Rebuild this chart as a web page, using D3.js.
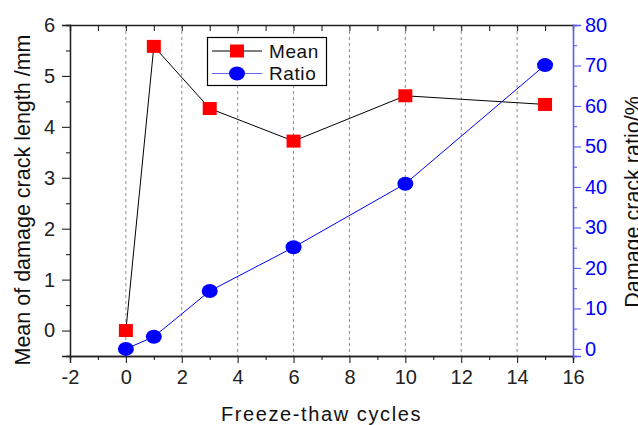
<!DOCTYPE html>
<html>
<head>
<meta charset="utf-8">
<script src="https://cdn.jsdelivr.net/npm/d3@7"></script>
<style>
  html, body { margin: 0; padding: 0; background: #fff; }
  svg { display: block; font-family: "Liberation Sans", Arial, sans-serif; }
</style>
</head>
<body>
<svg id="chart" width="638" height="425"></svg>
<script>
// Freeze-thaw cycles and measured crack statistics
const cycles = [0, 1, 3, 6, 10, 15];
const meanLength = [0, 5.58, 4.36, 3.72, 4.61, 4.44];   // mm
const crackRatio = [0, 3, 14.3, 25.1, 40.8, 70.1];       // %

const xTicks = [-2, 0, 2, 4, 6, 8, 10, 12, 14, 16];
const yLeftTicks = [0, 1, 2, 3, 4, 5, 6];
const yRightTicks = [0, 10, 20, 30, 40, 50, 60, 70, 80];
const gridCycles = [0, 2, 4, 6, 8, 10, 12, 14];
const seriesNames = ["Mean", "Ratio"];

const svg = d3.select("#chart");
const plotLeft = 70, plotRight = 573, plotTop = 25, plotBottom = 356;

const x = d3.scaleLinear().domain([-2, 16]).range([plotLeft, plotRight]);
const yL = d3.scaleLinear().domain([-0.5, 6]).range([plotBottom, plotTop]);
const yR = d3.scaleLinear().domain([-1.75, 80]).range([plotBottom, plotTop]);

const axisColor = "#222";
const blueAxis = "#5a5aff";
const fontSize = 20;
const plainNum = d => String(d);   // keep an ASCII hyphen for negatives

// dashed vertical guide lines
svg.append("g").selectAll("line").data(gridCycles).join("line")
  .attr("x1", d => x(d)).attr("x2", d => x(d))
  .attr("y1", plotTop).attr("y2", plotBottom)
  .attr("stroke", "#8c8c8c").attr("stroke-width", 1)
  .attr("stroke-dasharray", "3,3");

function styleAxis(g, color, textColor) {
  g.select(".domain").attr("stroke", color).attr("stroke-width", 1.3);
  g.selectAll(".tick line").attr("stroke", color).attr("stroke-width", 1.1);
  g.selectAll("text").attr("fill", textColor).attr("font-size", fontSize)
    .attr("font-family", "Liberation Sans, Arial, sans-serif");
}

// bottom axis with minor ticks
const xMinor = d3.range(-2, 16.01, 1).filter(v => v % 2 !== 0);
svg.append("g").attr("transform", `translate(0,${plotBottom})`)
  .call(d3.axisBottom(x).tickValues(xMinor).tickSize(4).tickFormat(""))
  .call(g => styleAxis(g, axisColor, axisColor));
svg.append("g").attr("transform", `translate(0,${plotBottom})`)
  .call(d3.axisBottom(x).tickValues(xTicks).tickSize(7).tickPadding(7).tickFormat(plainNum))
  .call(g => styleAxis(g, axisColor, axisColor));

// top frame axis, ticks pointing inward
svg.append("g").attr("transform", `translate(0,${plotTop})`)
  .call(d3.axisTop(x).tickValues(d3.range(-2, 16.01, 1)).tickSize(-6).tickFormat(""))
  .call(g => styleAxis(g, axisColor, axisColor));

// left axis
const yLMinor = d3.range(-0.5, 6.01, 0.5).filter(v => v % 1 !== 0);
svg.append("g").attr("transform", `translate(${plotLeft},0)`)
  .call(d3.axisLeft(yL).tickValues(yLMinor).tickSize(4).tickFormat(""))
  .call(g => styleAxis(g, axisColor, axisColor));
svg.append("g").attr("transform", `translate(${plotLeft},0)`)
  .call(d3.axisLeft(yL).tickValues(yLeftTicks).tickSize(8).tickPadding(7).tickFormat(plainNum))
  .call(g => styleAxis(g, axisColor, axisColor));

// right axis in blue
const yRMinor = d3.range(5, 80, 10);
svg.append("g").attr("transform", `translate(${plotRight},0)`)
  .call(d3.axisRight(yR).tickValues(yRMinor).tickSize(4).tickFormat(""))
  .call(g => styleAxis(g, blueAxis, "#0000ff"));
svg.append("g").attr("transform", `translate(${plotRight},0)`)
  .call(d3.axisRight(yR).tickValues(yRightTicks).tickSize(8).tickPadding(4).tickFormat(plainNum))
  .call(g => styleAxis(g, blueAxis, "#0000ff"));

// axis titles
svg.append("text").attr("x", x(7)).attr("y", 421)
  .attr("text-anchor", "middle").attr("font-size", 20).attr("letter-spacing", 1.6)
  .attr("fill", "#111").text("Freeze-thaw cycles");
svg.append("text").attr("transform", "translate(30,200) rotate(-90)")
  .attr("text-anchor", "middle").attr("font-size", 21.5)
  .attr("fill", "#111").text("Mean of damage crack length /mm");
svg.append("text").attr("transform", "translate(640,202) rotate(-90)")
  .attr("text-anchor", "middle").attr("font-size", 21.5)
  .attr("fill", "#111").text("Damage crack ratio/%");

const meanPts = cycles.map((c, i) => [c, meanLength[i]]);
const ratioPts = cycles.map((c, i) => [c, crackRatio[i]]);

// connecting lines
svg.append("path").datum(ratioPts)
  .attr("d", d3.line().x(d => x(d[0])).y(d => yR(d[1])))
  .attr("fill", "none").attr("stroke", "#0000ff").attr("stroke-width", 1);
svg.append("path").datum(meanPts)
  .attr("d", d3.line().x(d => x(d[0])).y(d => yL(d[1])))
  .attr("fill", "none").attr("stroke", "#000").attr("stroke-width", 1);

// markers
const sq = 14;
svg.append("g").selectAll("ellipse").data(ratioPts).join("ellipse")
  .attr("cx", d => x(d[0])).attr("cy", d => yR(d[1]))
  .attr("rx", 8).attr("ry", 7).attr("fill", "#0000ff");
svg.append("g").selectAll("rect").data(meanPts).join("rect")
  .attr("x", d => x(d[0]) - sq / 2).attr("y", d => yL(d[1]) - 6.5)
  .attr("width", sq).attr("height", 13).attr("fill", "#ff0000");

// legend
const lg = svg.append("g");
lg.append("rect").attr("x", 207.5).attr("y", 37.5).attr("width", 119).attr("height", 48)
  .attr("fill", "#fff").attr("stroke", "#000").attr("stroke-width", 1.2);
const rows = [
  { name: seriesNames[0], y: 51, line: "#000", mark: "rect", color: "#ff0000" },
  { name: seriesNames[1], y: 73.5, line: "#6666ff", mark: "ellipse", color: "#0000ff" }
];
rows.forEach(r => {
  lg.append("line").attr("x1", 212).attr("x2", 262).attr("y1", r.y).attr("y2", r.y)
    .attr("stroke", r.line).attr("stroke-width", 1);
  if (r.mark === "rect") {
    lg.append("rect").attr("x", 230).attr("y", r.y - 6.5).attr("width", 14).attr("height", 13)
      .attr("fill", r.color);
  } else {
    lg.append("ellipse").attr("cx", 237).attr("cy", r.y).attr("rx", 8).attr("ry", 7)
      .attr("fill", r.color);
  }
  lg.append("text").attr("x", 269).attr("y", r.y + 6.5).attr("font-size", 19)
    .attr("letter-spacing", 0.6).attr("fill", "#111").text(r.name);
});
</script>
</body>
</html>
